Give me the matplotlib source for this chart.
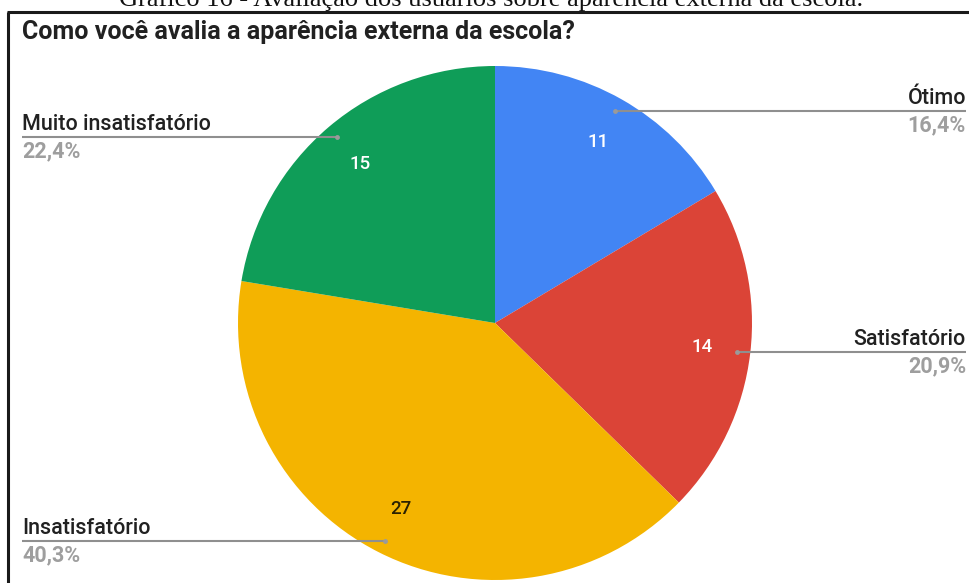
import numpy as np
import matplotlib
matplotlib.use("Agg")
import matplotlib.pyplot as plt

# Survey answers: "Como você avalia a aparência externa da escola?"
categories = ["Ótimo", "Satisfatório", "Insatisfatório", "Muito insatisfatório"]
counts = [11, 14, 27, 15]
percent_labels = ["16,4%", "20,9%", "40,3%", "22,4%"]
colors = ["#4285F4", "#DB4437", "#F4B400", "#0F9D58"]
value_colors = ["white", "white", "#2b2200", "white"]

title = "Como você avalia a aparência externa da escola?"
caption = "Gráfico 16 - Avaliação dos usuários sobre aparência externa da escola."

W, H = 969, 583
fig = plt.figure(figsize=(W / 100, H / 100), dpi=100)
ax = fig.add_axes([0, 0, 1, 1])

cx, cy, R = 495, H - 323, 257

wedges, _ = ax.pie(counts, colors=colors, startangle=90, counterclock=False,
                   center=(cx, cy), radius=R, frame=True,
                   wedgeprops=dict(linewidth=0))
ax.set_xlim(0, W)
ax.set_ylim(0, H)
ax.set_aspect("auto")
ax.axis("off")

label_font = ["Roboto", "DejaVu Sans"]

for w, n, cat, pct, vc in zip(wedges, counts, categories, percent_labels, value_colors):
    mid = np.deg2rad((w.theta1 + w.theta2) / 2)
    # value inside the slice
    ax.text(cx + 0.81 * R * np.cos(mid), cy + 0.81 * R * np.sin(mid), str(n),
            ha="center", va="center", color=vc, fontsize=13.5,
            family=label_font, fontweight="medium")
    # leader line from the slice to the outer label
    dx, dy = cx + 0.95 * R * np.cos(mid), cy + 0.95 * R * np.sin(mid)
    right = np.cos(mid) > 0
    xend = 966 if right else 22
    ax.plot([dx, xend], [dy, dy], color="#8f8f8f", lw=1.5, solid_capstyle="butt")
    ax.plot([dx], [dy], marker="o", ms=3.5, color="#9a9a9a", mec="none")
    ha = "right" if right else "left"
    ax.text(xend, dy + 7, cat, ha=ha, va="baseline", fontsize=15.5,
            color="#212121", family=label_font, fontweight="medium")
    ax.text(xend, dy - 21, pct, ha=ha, va="baseline", fontsize=15.5,
            color="#9e9e9e", family=label_font, fontweight="bold")

# chart title
ax.text(22, H - 39, title, ha="left", va="baseline", fontsize=18,
        color="#212121", family=label_font, fontweight="bold")

# frame around the chart (left and top edges)
ax.plot([8.5, 8.5], [0, H - 12], color="#1a1a1a", lw=2.2, solid_capstyle="butt")
ax.plot([7.4, W], [H - 12, H - 12], color="#1a1a1a", lw=2.2, solid_capstyle="butt")

# document caption above the frame
ax.text(491, H - 6, caption, ha="center", va="baseline", fontsize=19,
        color="#111111", family=["Liberation Serif", "DejaVu Serif"])

fig.savefig("out.png", dpi=100, facecolor="white")
